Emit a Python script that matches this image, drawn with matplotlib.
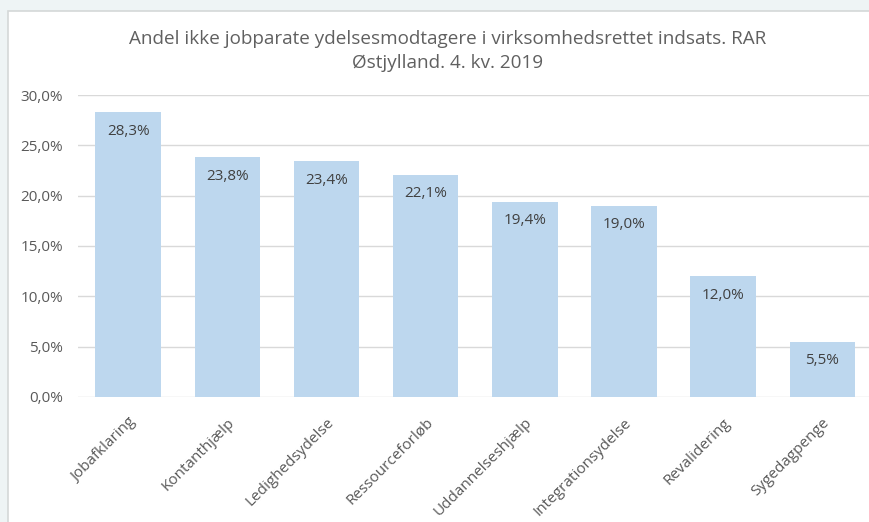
import matplotlib.pyplot as plt
from matplotlib.patches import Rectangle
from matplotlib.ticker import FuncFormatter

categories = ["Jobafklaring", "Kontanthjælp", "Ledighedsydelse", "Ressourceforløb",
              "Uddannelseshjælp", "Integrationsydelse", "Revalidering", "Sygedagpenge"]
values = [28.3, 23.8, 23.4, 22.1, 19.4, 19.0, 12.0, 5.5]
yticks = [0, 5, 10, 15, 20, 25, 30]

plt.rcParams['font.family'] = ['Open Sans', 'DejaVu Sans']

fig = plt.figure(figsize=(8.7, 5.22), dpi=100)
fig.patch.set_facecolor("#eef4f5")

# white chart box with thin gray border
box = Rectangle((8 / 870, -0.05), 1.0, 1 - 11 / 522 + 0.05, transform=fig.transFigure,
                facecolor="white", edgecolor="#d4d8d8", linewidth=1.2, zorder=-5)
fig.patches.append(box)

ax = fig.add_axes([0.0902, 0.2395, 0.912, 0.5785])
ax.set_facecolor("none")
ax.set_zorder(2)

x = range(len(categories))
ax.bar(x, values, width=0.66, color="#bdd7ee", zorder=2)

for i, v in zip(x, values):
    ax.annotate(("%.1f%%" % v).replace(".", ","), (i, v), xytext=(0, -19),
                textcoords="offset pixels", ha="center", va="center",
                fontsize=11, color="#404040", zorder=3)

ax.set_ylim(0, 30)
ax.set_xlim(-0.5, len(categories) - 0.5)
ax.set_yticks(yticks)
ax.yaxis.set_major_formatter(FuncFormatter(lambda v, p: ("%.1f%%" % v).replace(".", ",")))
ax.grid(axis="y", color="#d9d9d9", linewidth=1, zorder=1)
ax.set_axisbelow(True)
for s in ax.spines.values():
    s.set_visible(False)
ax.tick_params(axis="both", length=0, labelsize=11, colors="#595959")
ax.tick_params(axis="y", pad=11)
ax.set_xticks(list(x))
ax.set_xticklabels(categories, rotation=45, ha="right", rotation_mode="anchor")
ax.tick_params(axis="x", pad=13)

fig.text(0.515, 0.903, "Andel ikke jobparate ydelsesmodtagere i virksomhedsrettet indsats. RAR\nØstjylland. 4. kv. 2019",
         ha="center", va="center", fontsize=13.6, color="#606060", linespacing=1.42)

fig.savefig("out.png", dpi=100, facecolor=fig.get_facecolor())
